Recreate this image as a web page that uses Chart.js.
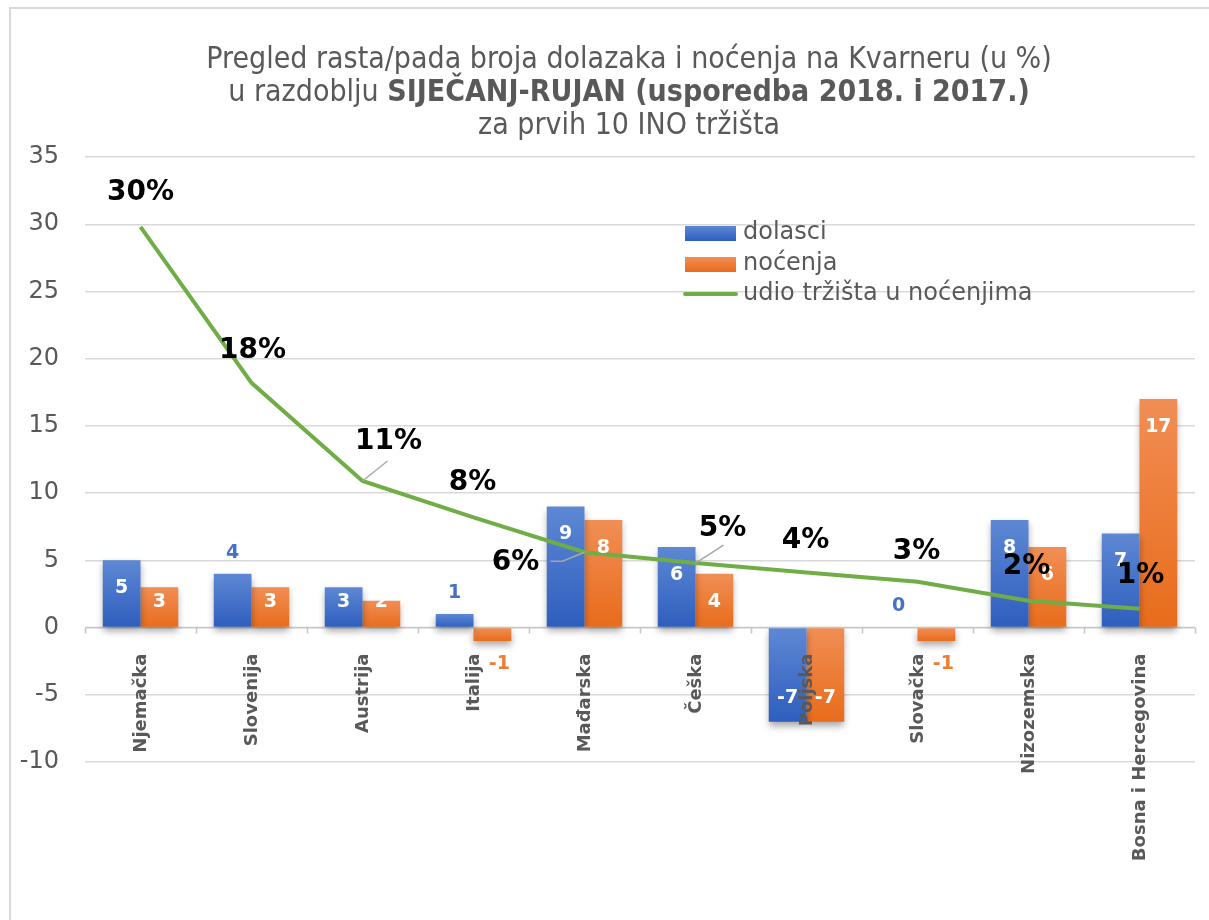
<!DOCTYPE html>
<html>
<head>
<meta charset="utf-8">
<script src="https://cdn.jsdelivr.net/npm/chart.js@4.4.1/dist/chart.umd.min.js"></script>
<style>
  html, body { margin: 0; padding: 0; background: #fff; }
  canvas { display: block; }
</style>
</head>
<body>
<canvas id="grafikon" width="1209" height="920"></canvas>
<script>
// Podaci
const TRZISTA = ["Njemačka", "Slovenija", "Austrija", "Italija", "Mađarska", "Češka", "Poljska", "Slovačka", "Nizozemska", "Bosna i Hercegovina"];
const DOLASCI = [5, 4, 3, 1, 9, 6, -7, 0, 8, 7];
const NOCENJA = [3, 3, 2, -1, 8, 4, -7, -1, 6, 17];
const UDIO = [29.8, 18.2, 10.9, 8.2, 5.6, 4.8, 4.1, 3.4, 2.0, 1.4];
const Y_MIN = -10;
const Y_MAX = 35;
const Y_KORAK = 5;

const NASLOV_1 = "Pregled rasta/pada broja dolazaka i noćenja na Kvarneru (u %)";
const NASLOV_2A = "u razdoblju ";
const NASLOV_2B = "SIJEČANJ-RUJAN (usporedba 2018. i 2017.)";
const NASLOV_3 = "za prvih 10 INO tržišta";

const FONT = '"DejaVu Sans", Verdana, sans-serif';
const FONT_USKI = '"DejaVu Sans Condensed", "DejaVu Sans", sans-serif';
const SIVA = "#595959";

const BOJE_PLAVA = ["#5E88D4", "#2E5EBE"];
const BOJE_NARANCA = ["#F18E55", "#E86C1B"];
const ZELENA = "#70AD47";

// položaj oznaka na stupcima: in = unutra, out = iznad, below = ispod osi
const POZ_DOLASCI = ["in", "out", "in", "out", "in", "in", "in", "out", "in", "in"];
const POZ_NOCENJA = ["in", "in", "in", "below", "in", "in", "in", "below", "in", "in"];

// pomak postotnih oznaka od točke linije
const POMAK_POSTO = [[0, -34], [1, -32], [26, -39], [-1, -35], [-69, 10], [27, -34], [-1, -32], [-1, -30], [-2, -34], [1, -33]];
const SPOJNICE = { 2: [[25, -20]], 4: [[-22, 9], [-34, 9]], 5: [[28, -18]] };

function gradijent(context, boje) {
  const chart = context.chart;
  if (!chart.chartArea || context.type !== "data") return boje[0];
  const y = chart.scales.y;
  const y0 = y.getPixelForValue(0);
  const y1 = y.getPixelForValue(context.raw);
  const gore = Math.min(y0, y1);
  const dolje = Math.max(y0, y1);
  if (dolje - gore < 1) return boje[1];
  const g = chart.ctx.createLinearGradient(0, gore, 0, dolje);
  g.addColorStop(0, boje[0]);
  g.addColorStop(1, boje[1]);
  return g;
}

// okvir, naslov i os nule
const pozadina = {
  id: "pozadina",
  beforeDraw(chart) {
    const ctx = chart.ctx;
    ctx.save();
    ctx.fillStyle = "#fff";
    ctx.fillRect(0, 0, chart.width, chart.height);
    ctx.strokeStyle = "#d9d9d9";
    ctx.lineWidth = 2;
    ctx.strokeRect(10, 8, chart.width + 20, chart.height + 20);

    const cx = 629;
    const vel = 30;
    ctx.fillStyle = SIVA;
    ctx.textBaseline = "middle";
    ctx.textAlign = "center";
    ctx.font = vel + "px " + FONT_USKI;
    ctx.fillText(NASLOV_1, cx, 60);
    ctx.fillText(NASLOV_3, cx, 126);

    ctx.textAlign = "left";
    const w1 = ctx.measureText(NASLOV_2A).width;
    ctx.font = "bold " + vel + "px " + FONT_USKI;
    const w2 = ctx.measureText(NASLOV_2B).width;
    const x0 = cx - (w1 + w2) / 2;
    ctx.font = vel + "px " + FONT_USKI;
    ctx.fillText(NASLOV_2A, x0, 93);
    ctx.font = "bold " + vel + "px " + FONT_USKI;
    ctx.fillText(NASLOV_2B, x0 + w1, 93);
    ctx.restore();
  },
  beforeDatasetsDraw(chart) {
    const ctx = chart.ctx;
    const { left, right } = chart.chartArea;
    const y0 = chart.scales.y.getPixelForValue(0);
    const korak = (right - left) / TRZISTA.length;
    ctx.save();
    ctx.strokeStyle = "#c8c8c8";
    ctx.lineWidth = 1.6;
    ctx.beginPath();
    ctx.moveTo(left, y0);
    ctx.lineTo(right, y0);
    for (let i = 0; i <= TRZISTA.length; i++) {
      const x = Math.round(left + i * korak) + 0.5;
      ctx.moveTo(x, y0);
      ctx.lineTo(x, y0 + 6);
    }
    ctx.stroke();
    ctx.restore();
  },
};

// sjena ispod stupaca
const sjena = {
  id: "sjena",
  beforeDatasetDraw(chart, args) {
    if (args.meta.type !== "bar") return;
    const ctx = chart.ctx;
    ctx.save();
    ctx.shadowColor = "rgba(0,0,0,0.35)";
    ctx.shadowBlur = 7;
    ctx.shadowOffsetY = 4;
  },
  afterDatasetDraw(chart, args) {
    if (args.meta.type !== "bar") return;
    chart.ctx.restore();
  },
};

// oznake kategorija, vrijednosti, postoci i legenda
const oznake = {
  id: "oznake",
  afterDatasetsDraw(chart) {
    const ctx = chart.ctx;
    const y0 = chart.scales.y.getPixelForValue(0);
    ctx.save();

    // kategorije
    ctx.fillStyle = SIVA;
    ctx.font = "bold 18px " + FONT;
    ctx.textAlign = "right";
    ctx.textBaseline = "middle";
    TRZISTA.forEach((naziv, i) => {
      const x = chart.scales.x.getPixelForValue(i);
      ctx.save();
      ctx.translate(x + 1, y0 + 26);
      ctx.rotate(-Math.PI / 2);
      ctx.fillText(naziv, 0, 0);
      ctx.restore();
    });

    // vrijednosti stupaca
    const stupci = [
      { meta: chart.getDatasetMeta(0), poz: POZ_DOLASCI, boja: "#4472C4", vrijednosti: DOLASCI },
      { meta: chart.getDatasetMeta(1), poz: POZ_NOCENJA, boja: "#ED7D31", vrijednosti: NOCENJA },
    ];
    ctx.font = "bold 19px " + FONT;
    ctx.textAlign = "center";
    stupci.forEach(({ meta, poz, boja, vrijednosti }) => {
      meta.data.forEach((el, i) => {
        const v = vrijednosti[i];
        let x = el.x;
        let y;
        ctx.fillStyle = "#fff";
        if (poz[i] === "in") {
          y = v >= 0 ? Math.min(el.y + 28, el.base - 25) : el.y - 24;
        } else if (poz[i] === "out") {
          y = el.y - 21;
          ctx.fillStyle = boja;
        } else {
          x = el.x + 7;
          y = el.base + 36;
          ctx.fillStyle = boja;
        }
        ctx.fillText(String(v), x, y);
      });
    });

    // spojnice i postoci
    const linija = chart.getDatasetMeta(2);
    ctx.strokeStyle = "#a6a6a6";
    ctx.lineWidth = 1.5;
    Object.keys(SPOJNICE).forEach((k) => {
      const t = linija.data[k];
      ctx.beginPath();
      ctx.moveTo(t.x, t.y);
      SPOJNICE[k].forEach(([dx, dy]) => ctx.lineTo(t.x + dx, t.y + dy));
      ctx.stroke();
    });
    ctx.fillStyle = "#000";
    ctx.font = "bold 28px " + FONT;
    linija.data.forEach((t, i) => {
      const [dx, dy] = POMAK_POSTO[i];
      ctx.fillText(Math.round(UDIO[i]) + "%", t.x + dx, t.y + dy);
    });

    // legenda
    const lx = 685;
    const redovi = [233, 264, 294];
    chart.data.datasets.forEach((ds, i) => {
      const y = redovi[i];
      if (ds.type === "line") {
        ctx.strokeStyle = ZELENA;
        ctx.lineWidth = 4;
        ctx.lineCap = "round";
        ctx.beginPath();
        ctx.moveTo(lx, y);
        ctx.lineTo(lx + 51, y);
        ctx.stroke();
      } else {
        const boje = i === 0 ? BOJE_PLAVA : BOJE_NARANCA;
        const g = ctx.createLinearGradient(0, y - 7, 0, y + 8);
        g.addColorStop(0, boje[0]);
        g.addColorStop(1, boje[1]);
        ctx.fillStyle = g;
        ctx.fillRect(lx, y - 7, 51, 15);
      }
      ctx.fillStyle = SIVA;
      ctx.font = "24px " + FONT;
      ctx.textAlign = "left";
      ctx.fillText(ds.label, lx + 58, y);
    });

    ctx.restore();
  },
};

new Chart(document.getElementById("grafikon"), {
  type: "bar",
  data: {
    labels: TRZISTA,
    datasets: [
      {
        label: "dolasci",
        data: DOLASCI,
        backgroundColor: (c) => gradijent(c, BOJE_PLAVA),
        categoryPercentage: 0.68,
        barPercentage: 1.0,
        order: 1,
      },
      {
        label: "noćenja",
        data: NOCENJA,
        backgroundColor: (c) => gradijent(c, BOJE_NARANCA),
        categoryPercentage: 0.68,
        barPercentage: 1.0,
        order: 1,
      },
      {
        type: "line",
        label: "udio tržišta u noćenjima",
        data: UDIO,
        borderColor: ZELENA,
        borderWidth: 4,
        pointRadius: 0,
        tension: 0,
        fill: false,
        order: 0,
      },
    ],
  },
  options: {
    responsive: false,
    animation: false,
    devicePixelRatio: 1,
    layout: {
      padding: { top: 157, bottom: 158, left: 0, right: 14 },
    },
    plugins: {
      legend: { display: false },
      title: { display: false },
      tooltip: { enabled: false },
    },
    scales: {
      x: {
        display: false,
        offset: true,
      },
      y: {
        min: Y_MIN,
        max: Y_MAX,
        border: { display: false },
        grid: {
          color: "#d9d9d9",
          lineWidth: 1.4,
          drawTicks: false,
        },
        ticks: {
          stepSize: Y_KORAK,
          color: SIVA,
          padding: 26,
          font: { family: FONT, size: 24 },
        },
        afterFit(scale) {
          scale.width = 85;
        },
      },
    },
  },
  plugins: [pozadina, sjena, oznake],
});
</script>
</body>
</html>
